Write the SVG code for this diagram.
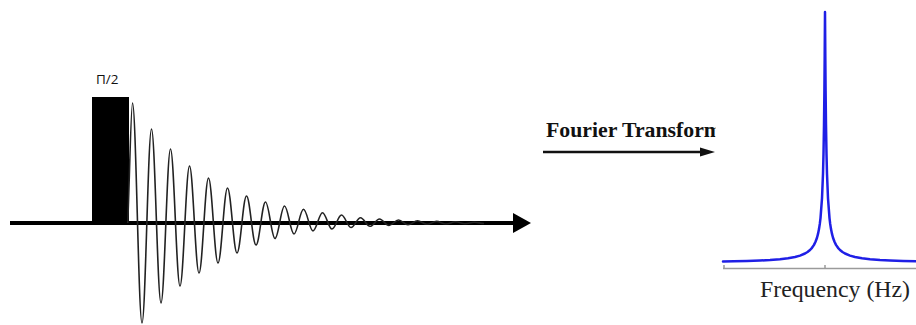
<svg xmlns="http://www.w3.org/2000/svg" width="916" height="325" viewBox="0 0 916 325">
<style>
.ax{stroke:#000;stroke-width:4;fill:none}
.wave{stroke:#222;stroke-width:1.6;fill:none;stroke-linejoin:round}
.spec{stroke:#1f1fe6;stroke-width:2.5;fill:none;stroke-linejoin:round;stroke-linecap:round}
.faxis{stroke:#9a9a9a;stroke-width:1.5;fill:none}
.serif{font-family:"Liberation Serif","Times New Roman",serif}
</style>
<defs>
<clipPath id="ftclip"><rect x="0" y="0" width="715.5" height="325"/></clipPath>
</defs>
<rect width="916" height="325" fill="#fff"/>
<g id="fid">
<line class="ax" x1="10" y1="223" x2="514" y2="223"/>
<polygon points="513,213 531,223 513,233" fill="#000"/>
<rect id="pulse" x="92" y="97" width="37" height="126" fill="#000"/>
<path class="wave" d="M127.75,223 C129.5,180 131,103 132.5,103 C135.96,103 138.54,323 142,323 C145.46,323 148.04,129 151.5,129 C154.96,129 157.54,303 161,303 C164.46,303 167.04,149 170.5,149 C173.96,149 176.54,286 180,286 C183.46,286 186.04,166 189.5,166 C192.96,166 195.54,273 199,273 C202.46,273 205.04,178 208.5,178 C211.96,178 214.54,263 218,263 C221.46,263 224.04,188 227.5,188 C230.96,188 233.54,253 237,253 C240.46,253 243.04,196 246.5,196 C249.96,196 252.54,245 256,245 C259.46,245 262.04,202 265.5,202 C268.96,202 271.54,238.5 275,238.5 C278.46,238.5 281.04,206 284.5,206 C287.96,206 290.54,234 294,234 C297.46,234 300.04,209.3 303.5,209.3 C306.96,209.3 309.54,231 313,231 C316.46,231 319.04,212.7 322.5,212.7 C325.96,212.7 328.54,229 332,229 C335.46,229 338.04,215 341.5,215 C344.96,215 347.54,227.5 351,227.5 C354.46,227.5 357.04,217.7 360.5,217.7 C363.96,217.7 366.54,226.3 370,226.3 C373.46,226.3 376.04,219 379.5,219 C382.96,219 385.54,225.5 389,225.5 C392.46,225.5 395.04,220 398.5,220 C401.96,220 404.54,224.8 408,224.8 C411.46,224.8 414.04,220.8 417.5,220.8 C420.96,220.8 423.54,224.3 427,224.3 C430.46,224.3 433.04,221.4 436.5,221.4 C439.96,221.4 442.54,224 446,224 C449.46,224 452.04,221.8 455.5,221.8 C458.96,221.8 461.54,223.7 465,223.7 C468.46,223.7 471.04,222.2 474.5,222.2 C477.96,222.2 480.54,223.5 484,223.5"/>
</g>
<g id="pulse-label">
<text x="96" y="84" font-family="'Open Sans','Noto Sans',sans-serif" font-size="13.5" fill="#111">Π/2</text>
</g>
<g id="ft-label">
<text class="serif" x="546" y="137" font-size="21" font-weight="bold" fill="#111" textLength="176" lengthAdjust="spacingAndGlyphs" clip-path="url(#ftclip)">Fourier Transform</text>
</g>
<g id="connectors">
<line x1="543" y1="152" x2="703" y2="152" stroke="#111" stroke-width="2.5"/>
<polygon points="700,147.5 715,152 700,156.5" fill="#111"/>
</g>
<g id="spectrum">
<line class="faxis" x1="723" y1="268.5" x2="916" y2="268.5"/>
<line class="faxis" x1="724" y1="265" x2="724" y2="269"/>
<line class="faxis" x1="825" y1="265" x2="825" y2="269"/>
<polyline class="spec" points="723,261.5 734,261.3 747,261 760,260.5 770,260 780,259.2 788,258.2 795,257 800,255.6 805,253.5 807.5,252 810,250 812,247.8 814,244.9 815.5,241.8 817,237.7 818,233.9 819,229.1 819.8,223.9 820.5,218.1 822,198.4 823,173.7 823.5,153.9 824,125 824.4,90.7 824.7,55.2 825,12 825.3,55.2 825.6,90.7 826,125 826.5,153.9 827,173.7 828,198.4 829.5,218.1 830.2,223.9 831,229.1 832,233.9 833,237.7 834.5,241.8 836,244.9 838,247.8 840,250 842.5,252 845,253.5 850,255.6 855,257 862,258.2 870,259.2 880,260 890,260.5 903,261 916,261.3"/>
<text class="serif" x="760" y="297" font-size="23" fill="#222" textLength="150" lengthAdjust="spacingAndGlyphs">Frequency (Hz)</text>
</g>
</svg>
